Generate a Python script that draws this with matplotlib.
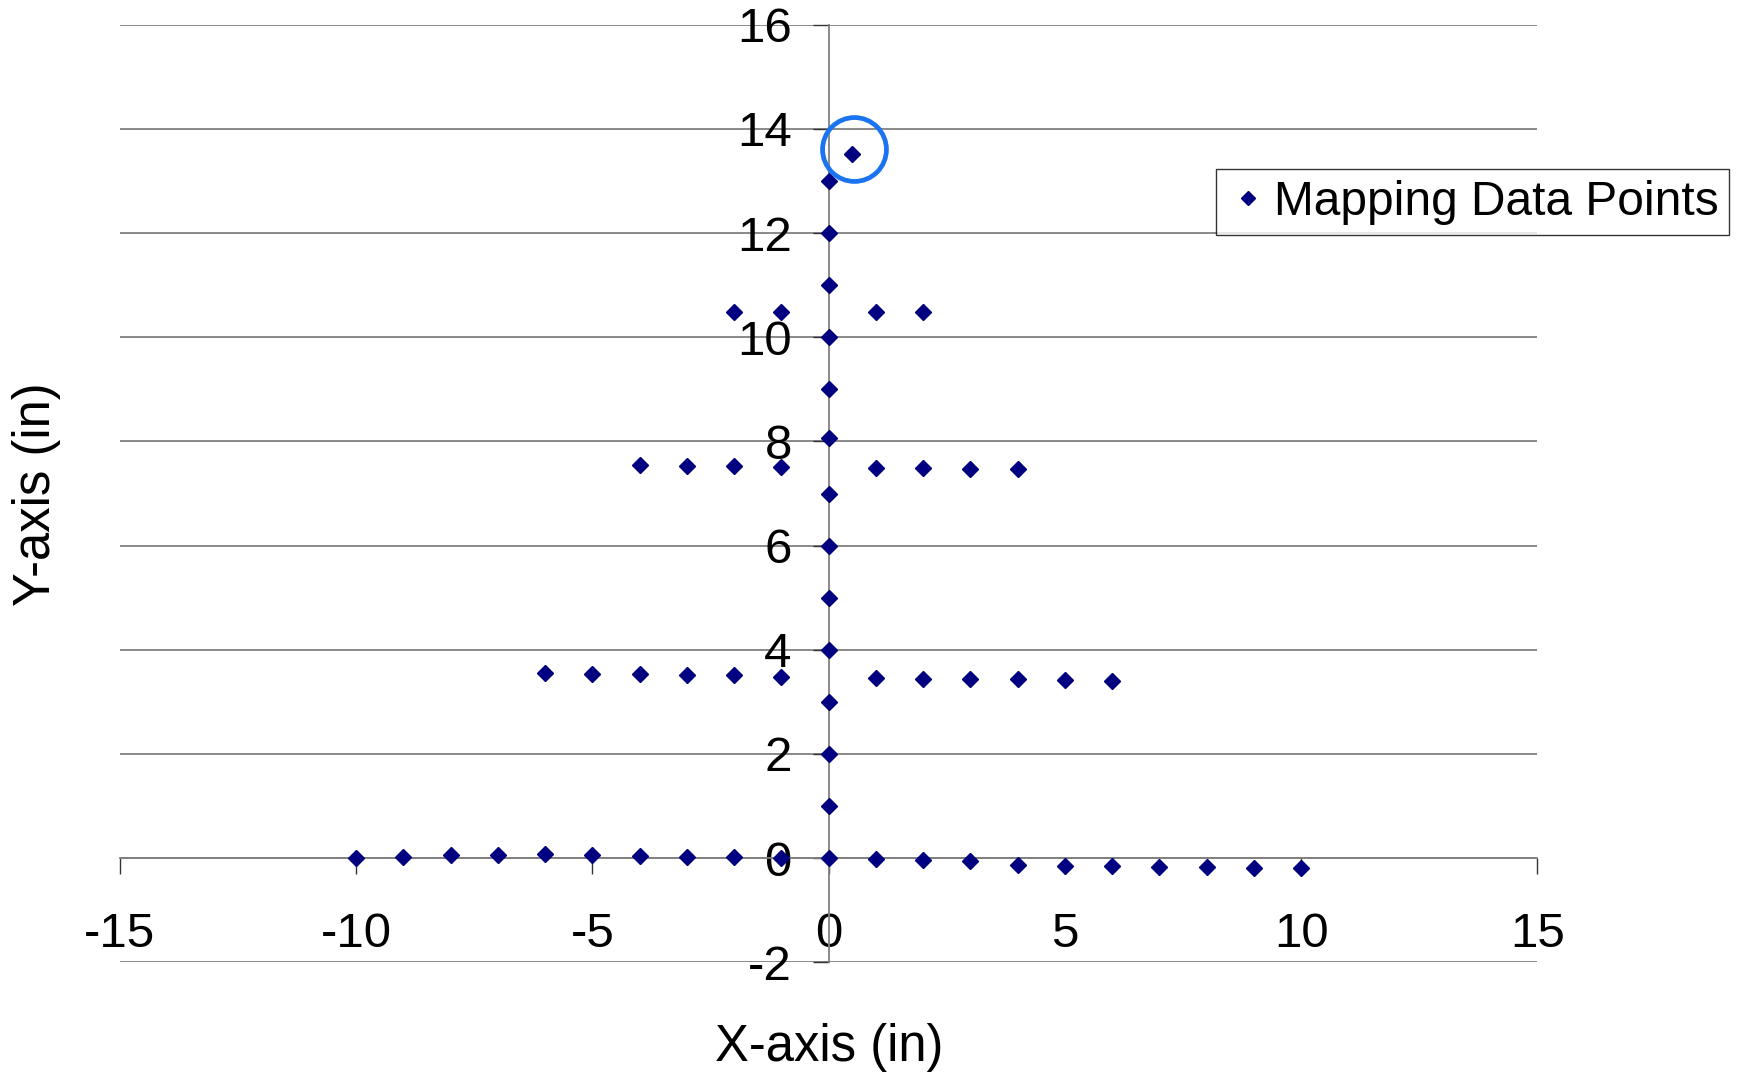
import matplotlib.pyplot as plt

plt.rcParams["font.family"] = ["Liberation Sans", "DejaVu Sans"]
plt.rcParams["axes.unicode_minus"] = False

# mapping points (inches)
spine_x = [0] * 14
spine_y = [0, 1, 2, 3, 4, 5, 6, 7, 8.06, 9, 10, 11, 12, 12.99]

row0_x = [-10, -9, -8, -7, -6, -5, -4, -3, -2, -1, 1, 2, 3, 4, 5, 6, 7, 8, 9, 10]
row0_y = [0.0, 0.03, 0.06, 0.065, 0.077, 0.065, 0.04, 0.03, 0.015, 0.0,
          -0.02, -0.03, -0.06, -0.13, -0.15, -0.15, -0.17, -0.17, -0.19, -0.19]

row1_x = [-6, -5, -4, -3, -2, -1, 1, 2, 3, 4, 5, 6]
row1_y = [3.55, 3.54, 3.53, 3.52, 3.51, 3.48, 3.46, 3.44, 3.44, 3.43, 3.42, 3.41]

row2_x = [-4, -3, -2, -1, 1, 2, 3, 4]
row2_y = [7.55, 7.53, 7.53, 7.51, 7.49, 7.49, 7.47, 7.47]

row3_x = [-2, -1, 1, 2]
row3_y = [10.49, 10.49, 10.49, 10.49]

highlight_x = [0.5]
highlight_y = [13.52]

x_ticks = [-15, -10, -5, 0, 5, 10, 15]
y_ticks = [-2, 0, 2, 4, 6, 8, 10, 12, 14, 16]

all_x = spine_x + row0_x + row1_x + row2_x + row3_x + highlight_x
all_y = spine_y + row0_y + row1_y + row2_y + row3_y + highlight_y

fig = plt.figure(figsize=(17.43, 10.74), dpi=100)
ax = fig.add_axes([0.0688, 0.104, 0.8132, 0.873])

navy = "#000080"
grey = "#808080"

ax.plot(all_x, all_y, linestyle="none", marker="D", markersize=8.5,
        color=navy, label="Mapping Data Points", zorder=3)
# blue ring around the odd point (slightly above it, as drawn)
ring = ax.plot(highlight_x, highlight_y, linestyle="none", marker="o", markersize=46,
               markerfacecolor="none", markeredgecolor="#1a73f0", markeredgewidth=3.4,
               zorder=4)[0]
ring.set_transform(ax.transData + plt.matplotlib.transforms.ScaledTranslation(
    1.5 / 100, 5 / 100, fig.dpi_scale_trans))

ax.set_xlim(-15, 15)
ax.set_ylim(-2, 16)
ax.set_xticks(x_ticks)
ax.set_yticks(y_ticks)

for side in ("top", "right"):
    ax.spines[side].set_visible(False)
ax.spines["left"].set_position(("data", 0))
ax.spines["bottom"].set_position(("data", 0))
ax.spines["left"].set_color(grey)
ax.spines["bottom"].set_color(grey)
ax.spines["left"].set_linewidth(1.3)
ax.spines["bottom"].set_linewidth(1.3)

ax.yaxis.grid(True, color=grey, linewidth=1.3)
ax.set_axisbelow(True)

ax.tick_params(axis="x", direction="out", length=11.5, width=1, color="#333333",
               labelsize=35.5, pad=27)
ax.tick_params(axis="y", direction="out", length=11.5, width=1, color="#333333",
               labelsize=35.5, pad=15)

fig.text(0.476, 0.025, "X-axis (in)", fontsize=36.5, ha="center", va="center")
fig.text(0.021, 0.540, "Y-axis (in)", fontsize=36.5, ha="center", va="center",
         rotation=90)

leg = ax.legend(loc="upper left", bbox_to_anchor=(0.6974, 0.8426),
                bbox_transform=fig.transFigure, fontsize=34.5, frameon=True,
                fancybox=False, borderpad=0.22, handletextpad=0.1,
                handlelength=0.9, borderaxespad=0, markerscale=0.85)
leg.get_frame().set_edgecolor("black")
leg.get_frame().set_linewidth(1.0)

fig.savefig("out.png", dpi=100)
